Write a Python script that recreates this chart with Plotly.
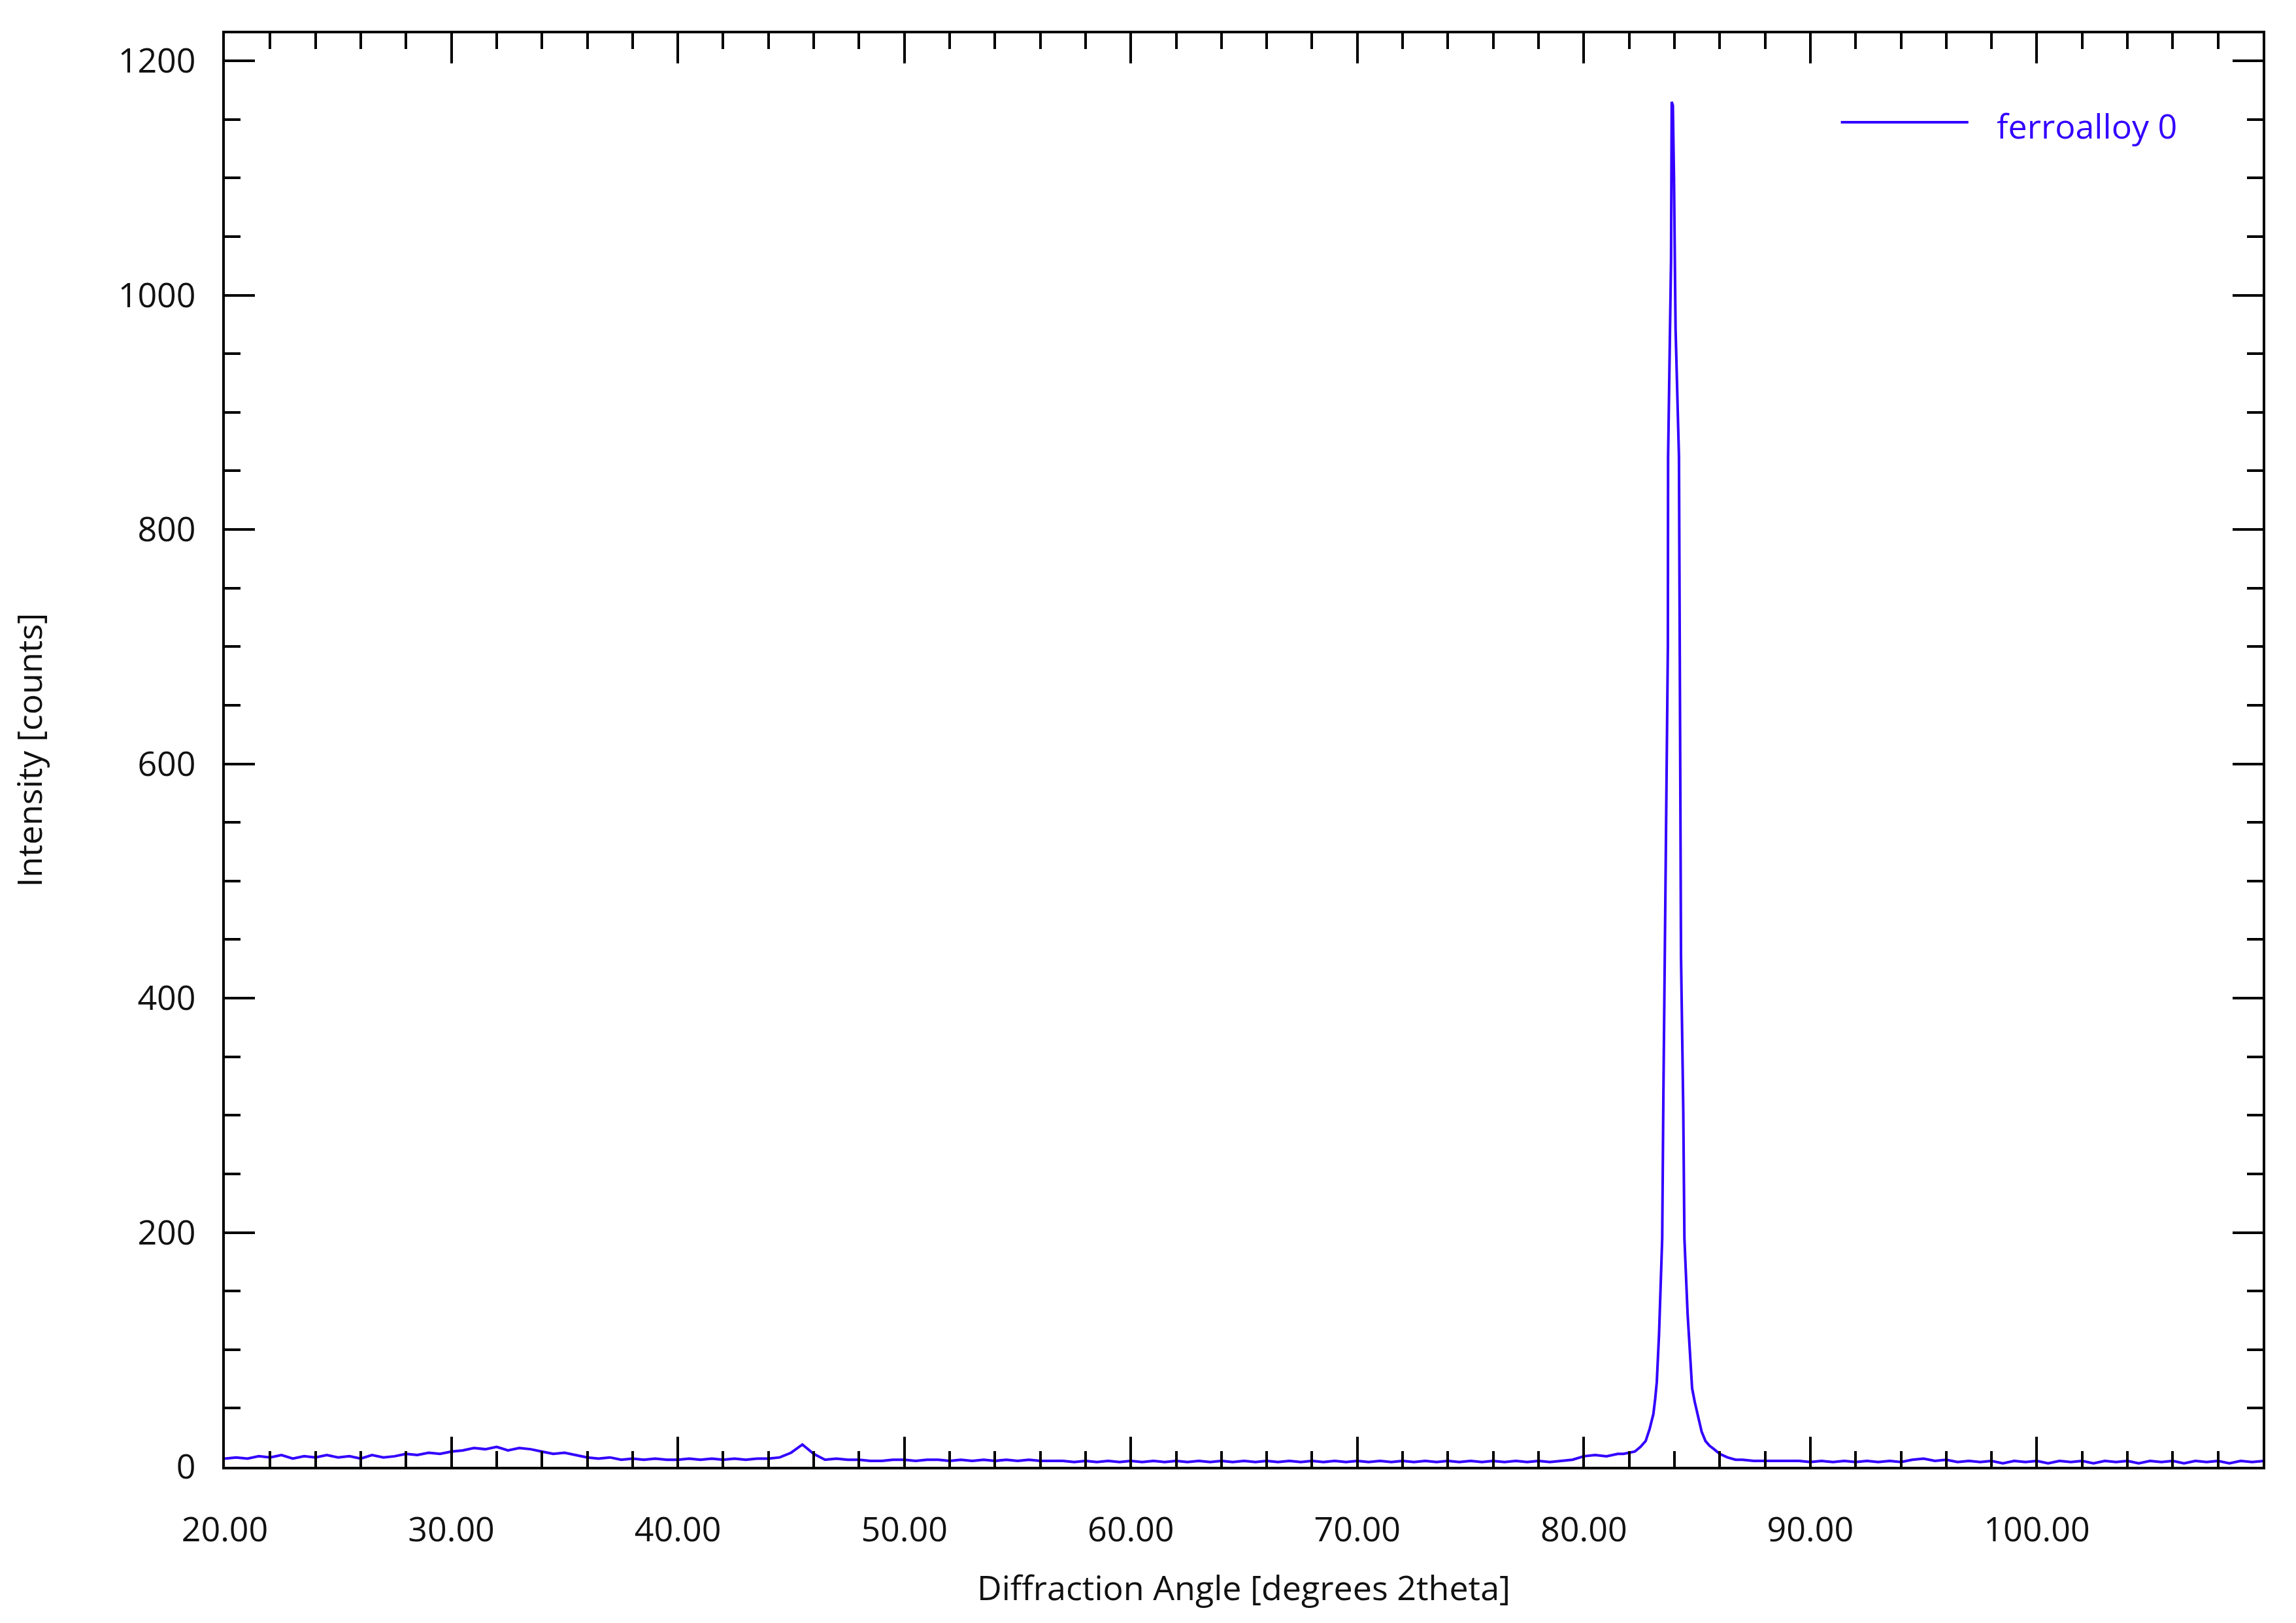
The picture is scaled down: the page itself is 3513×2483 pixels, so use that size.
import numpy as np
import plotly.graph_objects as go

BLUE = "#3300ff"
FONT = "Open Sans"

# low-angle background, 20.0 - 81.5 deg in 0.5 deg steps
angle_low = np.arange(20.0, 81.51, 0.5)
counts_low = [
    7, 8, 7, 9, 8, 10, 7, 9, 8, 10,
    8, 9, 7, 10, 8, 9, 11, 10, 12, 11,
    13, 14, 16, 15, 17, 14, 16, 15, 13, 11,
    12, 10, 8, 7, 8, 6, 7, 6, 7, 6,
    6, 7, 6, 7, 6, 7, 6, 7, 7, 8,
    12, 19, 11, 6, 7, 6, 6, 5, 5, 6,
    6, 5, 6, 6, 5, 6, 5, 6, 5, 6,
    5, 6, 5, 5, 5, 4, 5, 4, 5, 4,
    5, 4, 5, 4, 5, 4, 5, 4, 5, 4,
    5, 4, 5, 4, 5, 4, 5, 4, 5, 4,
    5, 4, 5, 4, 5, 4, 5, 4, 5, 4,
    5, 4, 5, 4, 5, 4, 5, 4, 5, 6,
    9, 10, 9, 11,
]

# main reflection near 84 deg
angle_peak = [
    81.75, 82.0, 82.25, 82.5, 82.73, 82.9, 83.07, 83.15, 83.22, 83.32,
    83.40, 83.46, 83.51, 83.56, 83.60, 83.66, 83.71, 83.72, 83.79, 83.85,
    83.88, 83.93, 83.98, 84.05, 84.20, 84.24, 84.27, 84.29, 84.39, 84.44,
    84.58, 84.68, 84.78, 84.90, 85.02, 85.2, 85.37, 85.55, 85.75, 86.0,
    86.34, 86.7,
]
counts_peak = [
    11, 12, 13, 17, 22, 32, 45, 58, 72, 113,
    160, 195, 313, 420, 500, 586, 700, 862, 971, 1030,
    1165, 1162, 1100, 971, 862, 690, 554, 436, 304, 195,
    131, 99, 67, 55, 45, 30, 22, 18, 15, 11,
    8, 6,
]

# high-angle background, 87.0 - 110.0 deg
angle_high = np.arange(87.0, 110.01, 0.5)
counts_high = [
    6, 5, 5, 5, 5, 5, 4, 5, 4, 5,
    4, 5, 4, 5, 4, 6, 7, 5, 6, 4,
    5, 4, 5, 3, 5, 4, 5, 3, 5, 4,
    5, 3, 5, 4, 5, 3, 5, 4, 5, 3,
    5, 4, 5, 3, 5, 4, 5,
]

two_theta = np.concatenate([angle_low, angle_peak, angle_high])
intensity = np.concatenate([counts_low, counts_peak, counts_high])

fig = go.Figure(
    go.Scatter(
        x=two_theta,
        y=intensity,
        mode="lines",
        name="ferroalloy 0",
        line=dict(color=BLUE, width=4),
        showlegend=False,
    )
)

axis_style = dict(
    showline=True,
    linecolor="black",
    linewidth=4,
    mirror="ticks",
    ticks="inside",
    tickcolor="black",
    tickwidth=4,
    showgrid=False,
    zeroline=False,
    tickfont=dict(family=FONT, size=52, color="#111111"),
)

fig.update_xaxes(
    **axis_style,
    range=[20, 109.97],
    tick0=20,
    dtick=10,
    tickformat=".2f",
    ticklen=46,
    ticklabelstandoff=48,
    minor=dict(tick0=20, dtick=2, ticks="inside", ticklen=24,
               tickwidth=4, tickcolor="black"),
    title=dict(text="Diffraction Angle [degrees 2theta]", standoff=40,
               font=dict(family=FONT, size=52, color="#111111")),
)

fig.update_yaxes(
    **axis_style,
    range=[0, 1223.5],
    tick0=0,
    dtick=200,
    ticklen=46,
    ticklabelstandoff=30,
    minor=dict(tick0=0, dtick=50, ticks="inside", ticklen=24,
               tickwidth=4, tickcolor="black"),
    title=dict(text="Intensity [counts]", standoff=100,
               font=dict(family=FONT, size=52, color="#111111")),
)

# legend drawn by hand so the sample line can be as long as in the original
fig.add_shape(type="line", xref="paper", yref="paper",
              x0=0.793, x1=0.8556, y0=0.938, y1=0.938,
              line=dict(color=BLUE, width=4))
fig.add_annotation(text="ferroalloy 0", xref="paper", yref="paper",
                   x=0.8687, y=0.936, xanchor="left", yanchor="middle",
                   showarrow=False, font=dict(family=FONT, size=52, color=BLUE))

fig.update_layout(
    width=3513,
    height=2483,
    margin=dict(l=336, r=59, t=43, b=247),
    paper_bgcolor="white",
    plot_bgcolor="white",
    font=dict(family=FONT, size=52, color="#111111"),
)

fig.write_html("out.html")
